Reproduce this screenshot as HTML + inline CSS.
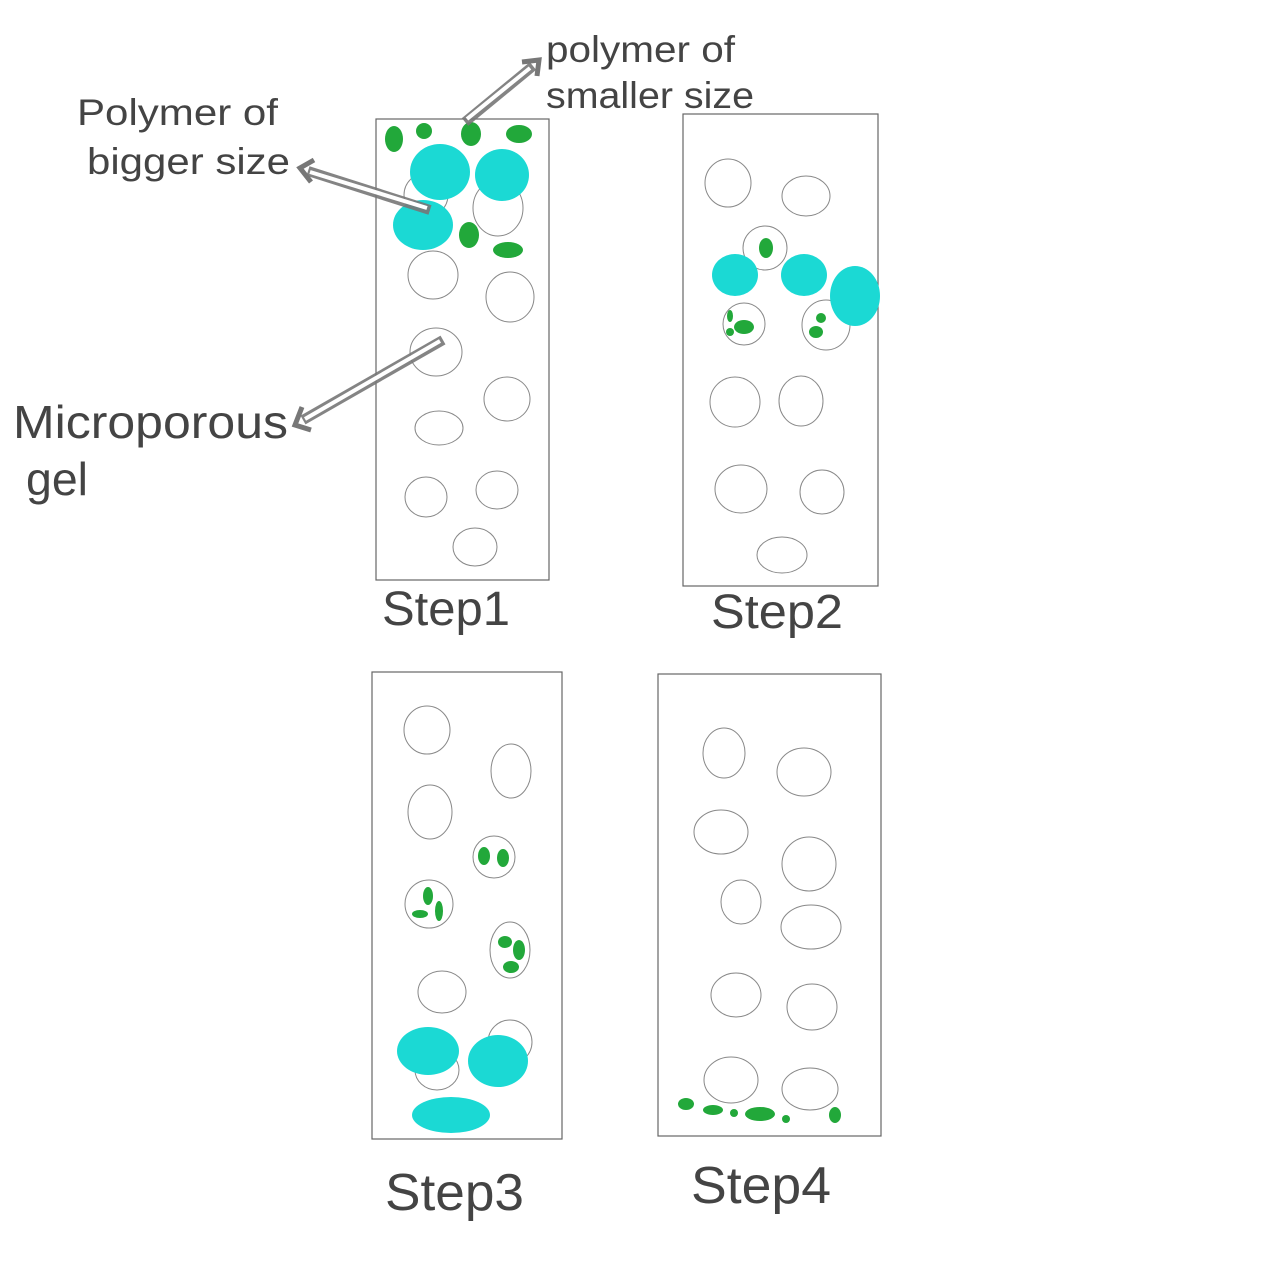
<!DOCTYPE html>
<html><head><meta charset="utf-8"><style>
html,body{margin:0;padding:0;background:#fff;}
svg{display:block;}
text{font-family:"Liberation Sans",sans-serif;fill:#444;}
</style></head><body>
<svg width="1280" height="1280" viewBox="0 0 1280 1280" xmlns="http://www.w3.org/2000/svg">
<g fill="none" stroke="#666" stroke-width="1.2">
<rect x="376" y="119" width="173" height="461"/>
<rect x="683" y="114" width="195" height="472"/>
<rect x="372" y="672" width="190" height="467"/>
<rect x="658" y="674" width="223" height="462"/>
</g>
<!-- Step1 -->
<g fill="none" stroke="#888" stroke-width="1">
<ellipse cx="426" cy="195" rx="22" ry="22"/>
<ellipse cx="498" cy="208" rx="25" ry="28"/>
<ellipse cx="433" cy="275" rx="25" ry="24"/>
<ellipse cx="510" cy="297" rx="24" ry="25"/>
<ellipse cx="436" cy="352" rx="26" ry="24"/>
<ellipse cx="507" cy="399" rx="23" ry="22"/>
<ellipse cx="439" cy="428" rx="24" ry="17"/>
<ellipse cx="426" cy="497" rx="21" ry="20"/>
<ellipse cx="497" cy="490" rx="21" ry="19"/>
<ellipse cx="475" cy="547" rx="22" ry="19"/>
</g>
<g fill="#1bd9d4">
<ellipse cx="440" cy="172" rx="30" ry="28"/>
<ellipse cx="502" cy="175" rx="27" ry="26"/>
<ellipse cx="423" cy="225" rx="30" ry="25"/>
</g>
<g fill="#22a83a">
<ellipse cx="394" cy="139" rx="9" ry="13"/>
<ellipse cx="424" cy="131" rx="8" ry="8"/>
<ellipse cx="471" cy="134" rx="10" ry="12"/>
<ellipse cx="519" cy="134" rx="13" ry="9"/>
<ellipse cx="469" cy="235" rx="10" ry="13"/>
<ellipse cx="508" cy="250" rx="15" ry="8"/>
</g>
<!-- arrows -->
<g stroke-linecap="butt" stroke-linejoin="miter">
<g stroke="#777" stroke-width="10" fill="none" opacity="0.9">
<line x1="465" y1="122" x2="533" y2="66"/>
<line x1="430" y1="210" x2="308" y2="171"/>
<line x1="443" y1="340" x2="303" y2="420"/>
</g>
<g stroke="#fff" stroke-width="4" fill="none">
<line x1="467" y1="119" x2="530" y2="68"/>
<line x1="427" y1="208" x2="310" y2="172"/>
<line x1="440" y1="341" x2="305" y2="419"/>
</g>
<g fill="none" stroke="#777" stroke-width="5">
<polyline points="522,62 539,60 537,76"/>
<polyline points="314,160 300,168 311,182"/>
<polyline points="302,407 295,425 311,430"/>
</g>
</g>
<!-- Step2 -->
<g fill="none" stroke="#888" stroke-width="1">
<ellipse cx="728" cy="183" rx="23" ry="24"/>
<ellipse cx="806" cy="196" rx="24" ry="20"/>
<ellipse cx="765" cy="248" rx="22" ry="22"/>
<ellipse cx="744" cy="324" rx="21" ry="21"/>
<ellipse cx="826" cy="325" rx="24" ry="25"/>
<ellipse cx="735" cy="402" rx="25" ry="25"/>
<ellipse cx="801" cy="401" rx="22" ry="25"/>
<ellipse cx="741" cy="489" rx="26" ry="24"/>
<ellipse cx="822" cy="492" rx="22" ry="22"/>
<ellipse cx="782" cy="555" rx="25" ry="18"/>
</g>
<g fill="#1bd9d4">
<ellipse cx="735" cy="275" rx="23" ry="21"/>
<ellipse cx="804" cy="275" rx="23" ry="21"/>
<ellipse cx="855" cy="296" rx="25" ry="30"/>
</g>
<g fill="#22a83a">
<ellipse cx="766" cy="248" rx="7" ry="10"/>
<ellipse cx="730" cy="316" rx="3" ry="6"/>
<ellipse cx="744" cy="327" rx="10" ry="7"/>
<ellipse cx="730" cy="332" rx="4" ry="4"/>
<ellipse cx="821" cy="318" rx="5" ry="5"/>
<ellipse cx="816" cy="332" rx="7" ry="6"/>
</g>
<!-- Step3 -->
<g fill="none" stroke="#888" stroke-width="1">
<ellipse cx="427" cy="730" rx="23" ry="24"/>
<ellipse cx="511" cy="771" rx="20" ry="27"/>
<ellipse cx="430" cy="812" rx="22" ry="27"/>
<ellipse cx="494" cy="857" rx="21" ry="21"/>
<ellipse cx="429" cy="904" rx="24" ry="24"/>
<ellipse cx="510" cy="950" rx="20" ry="28"/>
<ellipse cx="442" cy="992" rx="24" ry="21"/>
<ellipse cx="510" cy="1042" rx="22" ry="22"/>
<ellipse cx="437" cy="1070" rx="22" ry="20"/>
</g>
<g fill="#22a83a">
<ellipse cx="484" cy="856" rx="6" ry="9"/>
<ellipse cx="503" cy="858" rx="6" ry="9"/>
<ellipse cx="428" cy="896" rx="5" ry="9"/>
<ellipse cx="420" cy="914" rx="8" ry="4"/>
<ellipse cx="439" cy="911" rx="4" ry="10"/>
<ellipse cx="505" cy="942" rx="7" ry="6"/>
<ellipse cx="519" cy="950" rx="6" ry="10"/>
<ellipse cx="511" cy="967" rx="8" ry="6"/>
</g>
<g fill="#1bd9d4">
<ellipse cx="428" cy="1051" rx="31" ry="24"/>
<ellipse cx="498" cy="1061" rx="30" ry="26"/>
<ellipse cx="451" cy="1115" rx="39" ry="18"/>
</g>
<!-- Step4 -->
<g fill="none" stroke="#888" stroke-width="1">
<ellipse cx="724" cy="753" rx="21" ry="25"/>
<ellipse cx="804" cy="772" rx="27" ry="24"/>
<ellipse cx="721" cy="832" rx="27" ry="22"/>
<ellipse cx="809" cy="864" rx="27" ry="27"/>
<ellipse cx="741" cy="902" rx="20" ry="22"/>
<ellipse cx="811" cy="927" rx="30" ry="22"/>
<ellipse cx="736" cy="995" rx="25" ry="22"/>
<ellipse cx="812" cy="1007" rx="25" ry="23"/>
<ellipse cx="731" cy="1080" rx="27" ry="23"/>
<ellipse cx="810" cy="1089" rx="28" ry="21"/>
</g>
<g fill="#22a83a">
<ellipse cx="686" cy="1104" rx="8" ry="6"/>
<ellipse cx="713" cy="1110" rx="10" ry="5"/>
<ellipse cx="734" cy="1113" rx="4" ry="4"/>
<ellipse cx="760" cy="1114" rx="15" ry="7"/>
<ellipse cx="786" cy="1119" rx="4" ry="4"/>
<ellipse cx="835" cy="1115" rx="6" ry="8"/>
</g>
<!-- labels -->
<text x="77" y="125" font-size="37" textLength="201" lengthAdjust="spacingAndGlyphs">Polymer of</text>
<text x="87" y="174" font-size="37" textLength="203" lengthAdjust="spacingAndGlyphs">bigger size</text>
<text x="546" y="62" font-size="37" textLength="189" lengthAdjust="spacingAndGlyphs">polymer of</text>
<text x="546" y="108" font-size="37" textLength="208" lengthAdjust="spacingAndGlyphs">smaller size</text>
<text x="13" y="438" font-size="46" textLength="275" lengthAdjust="spacingAndGlyphs">Microporous</text>
<text x="26" y="495" font-size="46" textLength="62" lengthAdjust="spacingAndGlyphs">gel</text>
<text x="382" y="625" font-size="48" textLength="128" lengthAdjust="spacingAndGlyphs">Step1</text>
<text x="711" y="628" font-size="48" textLength="132" lengthAdjust="spacingAndGlyphs">Step2</text>
<text x="385" y="1210" font-size="52" textLength="139" lengthAdjust="spacingAndGlyphs">Step3</text>
<text x="691" y="1203" font-size="52" textLength="140" lengthAdjust="spacingAndGlyphs">Step4</text>
</svg>
</body></html>
